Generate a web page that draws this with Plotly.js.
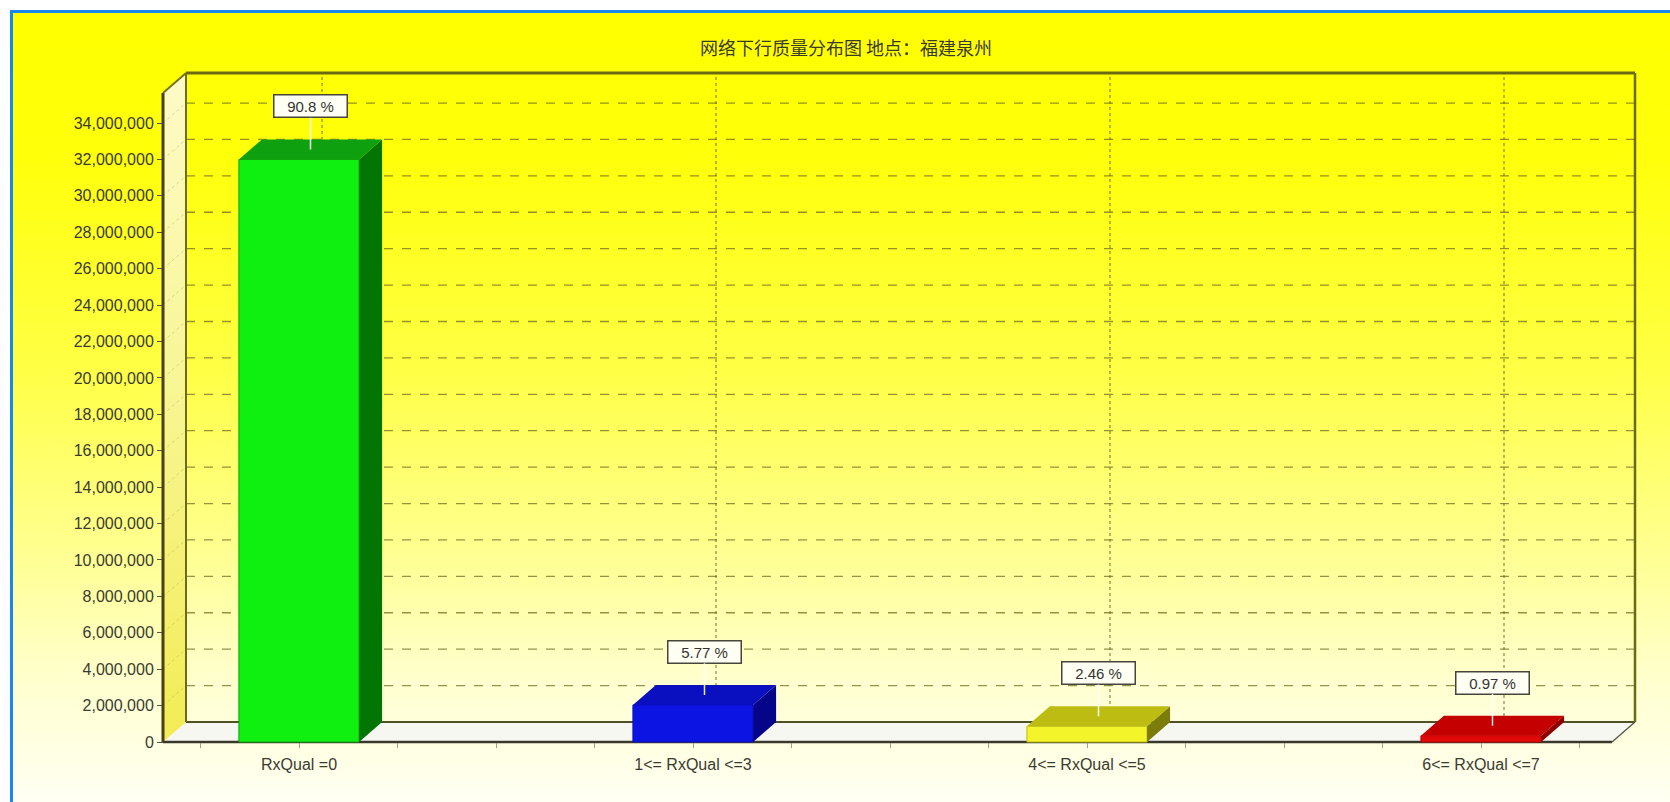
<!DOCTYPE html>
<html>
<head>
<meta charset="utf-8">
<script src="https://cdn.plot.ly/plotly-3.0.1.min.js"></script>
<style>
  html, body { margin: 0; padding: 0; background: #ffffff; }
  #frame {
    position: absolute; left: 10px; top: 10px; right: 0; bottom: 0;
    border-left: 3px solid #1688ee; border-top: 3px solid #1688ee;
    background: linear-gradient(180deg, #ffff00 0%, #ffff0a 18%, #ffff45 45%, #ffff90 68%, #ffffd0 85%, #fffff3 100%);
  }
  #chart { position: absolute; left: 0; top: 0; width: 1670px; height: 802px; }
</style>
</head>
<body>
<div id="frame"></div>
<div id="chart"></div>
<script>
// Downlink RxQual distribution, Quanzhou (Fujian)
const categories = ['RxQual =0', '1<= RxQual <=3', '4<= RxQual <=5', '6<= RxQual <=7'];
const sampleCounts = [32000000, 2033000, 867000, 342000];
const pctLabels = ['90.8 %', '5.77 %', '2.46 %', '0.97 %'];
const yTickVals = [0, 2000000, 4000000, 6000000, 8000000, 10000000, 12000000, 14000000,
                   16000000, 18000000, 20000000, 22000000, 24000000, 26000000, 28000000,
                   30000000, 32000000, 34000000];

// face colours: front / top / side
const frontColors = ['#10f010', '#0c14e4', '#f4f42a', '#e00a0a'];
const topColors   = ['#0ea00e', '#0a0fc0', '#bcbc12', '#c40000'];
const sideColors  = ['#037503', '#05058a', '#7c7c0a', '#8c0000'];

// ---- page geometry (pixels) ----
const W = 1670, H = 802;
const CAT0_PX = 299, CAT_STEP_PX = 394;       // front centre of first category, spacing
const ZERO_PX = 742, PX_PER_2M = 36.41;       // front floor line, vertical scale
const FRONT_LEFT_PX = 163, BACK_RIGHT_PX = 1635, BACK_TOP_PX = 73;
const DEPTH_X_PX = 23, DEPTH_Y_PX = 20;       // oblique depth of the box
const PAD = 5;

const plotL = FRONT_LEFT_PX - PAD, plotR = BACK_RIGHT_PX + PAD;
const plotT = BACK_TOP_PX - PAD, plotB = ZERO_PX + PAD;
const pxPerY = PX_PER_2M / 2000000;
const xToData = px => (px - CAT0_PX) / CAT_STEP_PX;
const yToData = px => (ZERO_PX - px) / pxPerY;

const xRange = [xToData(plotL), xToData(plotR)];
const yRange = [yToData(plotB), yToData(plotT)];

// depth offsets in data units
const dx = DEPTH_X_PX / CAT_STEP_PX;
const dy = DEPTH_Y_PX / pxPerY;

const xL = xToData(FRONT_LEFT_PX);     // front-left edge
const xR = xToData(BACK_RIGHT_PX);     // back-right edge
const yTop = yToData(BACK_TOP_PX);     // back wall top
const yTopFront = yTop - dy;           // left wall front top
const BAR_W = 0.305;

const gridColor = 'rgba(105,105,30,0.72)';
const shapes = [];
function poly(pts, fill, layer) {
  const d = 'M ' + pts.map(p => p[0] + ',' + p[1]).join(' L ') + ' Z';
  shapes.push({type: 'path', xref: 'x', yref: 'y', path: d, fillcolor: fill,
               line: {width: 0}, layer: layer});
}
function seg(x0, y0, x1, y1, color, width, dash, layer) {
  shapes.push({type: 'line', xref: 'x', yref: 'y', x0: x0, y0: y0, x1: x1, y1: y1,
               line: {color: color, width: width, dash: dash || 'solid'}, layer: layer});
}

// floor
poly([[xL, 0], [xL + dx, dy], [xR, dy], [xR - dx, 0]], '#f7f7f2', 'below');
// back wall grid
yTickVals.forEach(v => { if (v > 0) seg(xL + dx, v + dy, xR, v + dy, gridColor, 1.3, 'dash', 'below'); });
categories.forEach((c, i) => seg(i + dx, dy, i + dx, yTop, gridColor, 1.3, 'dot', 'below'));
// floor edges
seg(xL + dx, dy, xR, dy, '#505028', 2, 'solid', 'below');
seg(xL, 0, xR - dx, 0, '#38382c', 2.5, 'solid', 'below');

// left wall faint grid
yTickVals.forEach(v => { if (v > 0) seg(xL, v, xL + dx, v + dy, 'rgba(150,150,60,0.35)', 1, 'dot', 'above'); });
// box edges
seg(xL + dx, dy, xL + dx, yTop, '#6c6c18', 2, 'solid', 'above');
seg(xL, 0, xL, yTopFront, '#4a4010', 3, 'solid', 'above');
seg(xL, yTopFront, xL + dx, yTop, '#74741c', 2, 'solid', 'above');
seg(xL + dx, yTop, xR, yTop, '#6a6a12', 3, 'solid', 'above');
seg(xR, yTop, xR, dy, '#6a6a12', 2.5, 'solid', 'above');
seg(xR, dy, xR - dx, 0, '#5c5c50', 1.5, 'solid', 'above');

// bar top and side faces
sampleCounts.forEach((v, i) => {
  const a = i - BAR_W / 2, b = i + BAR_W / 2;
  poly([[b, 0], [b + dx, dy], [b + dx, v + dy], [b, v]], sideColors[i], 'above');
  poly([[a, v], [a + dx, v + dy], [b + dx, v + dy], [b, v]], topColors[i], 'above');
});

const leftWall = {
  type: 'scatter', mode: 'lines', hoverinfo: 'skip', showlegend: false,
  x: [xL, xL, xL + dx, xL + dx],
  y: [0, yTopFront, yTop, dy],
  fill: 'toself', fillcolor: '#f8f590',
  fillgradient: {type: 'vertical', colorscale: [[0, '#f2ec55'], [0.5, '#f8f590'], [1, '#fdfbc8']]},
  line: {width: 0}
};

const bars = {
  type: 'bar', x: [0, 1, 2, 3], y: sampleCounts, width: BAR_W,
  marker: {color: frontColors, line: {color: topColors, width: 1}},
  hoverinfo: 'skip', showlegend: false
};

const annotations = sampleCounts.map((v, i) => ({
  x: i + dx / 2, y: v + dy / 2, xref: 'x', yref: 'y',
  text: pctLabels[i], showarrow: true, arrowhead: 0, arrowwidth: 1.5,
  arrowcolor: 'rgba(255,255,255,0.9)', ax: 0, ay: -43,
  bgcolor: '#fffff4', bordercolor: '#45453a', borderwidth: 1.5, borderpad: 2,
  width: 68, height: 17,
  font: {family: 'Liberation Sans, Arial, sans-serif', size: 15, color: '#333333'}
}));

const layout = {
  width: W, height: H,
  margin: {l: plotL, r: W - plotR, t: plotT, b: H - plotB, pad: 0},
  paper_bgcolor: 'rgba(0,0,0,0)', plot_bgcolor: 'rgba(0,0,0,0)',
  showlegend: false,
  title: {
    text: '网络下行质量分布图 地点：福建泉州',
    x: 846 / W, xref: 'container', xanchor: 'center',
    y: 1 - 49 / H, yref: 'container', yanchor: 'middle',
    font: {family: 'Noto Sans CJK SC, sans-serif', size: 18, color: '#3a3a28'}
  },
  xaxis: {
    range: xRange, anchor: 'free', position: PAD / (plotB - plotT),
    tickmode: 'array', tickvals: [0, 1, 2, 3], ticktext: categories,
    ticks: 'outside', ticklen: 5, tickcolor: '#a0a090', tickwidth: 1,
    minor: {tick0: 0, dtick: 0.25, ticks: 'outside', ticklen: 5, tickcolor: '#a0a090', showgrid: false},
    ticklabelstandoff: 3,
    showgrid: false, zeroline: false, showline: false, fixedrange: true,
    tickfont: {family: 'Liberation Sans, Arial, sans-serif', size: 16, color: '#3b3b30'}
  },
  yaxis: {
    range: yRange, anchor: 'free', position: PAD / (plotR - plotL),
    tickmode: 'array', tickvals: yTickVals, tickformat: ',d',
    ticks: 'outside', ticklen: 6, tickcolor: '#55554a', tickwidth: 1,
    showgrid: false, zeroline: false, showline: false, fixedrange: true,
    tickfont: {family: 'Liberation Sans, Arial, sans-serif', size: 16, color: '#3b3b30'}
  },
  shapes: shapes,
  annotations: annotations
};

Plotly.newPlot('chart', [leftWall, bars], layout, {displayModeBar: false, staticPlot: true});
</script>
</body>
</html>
